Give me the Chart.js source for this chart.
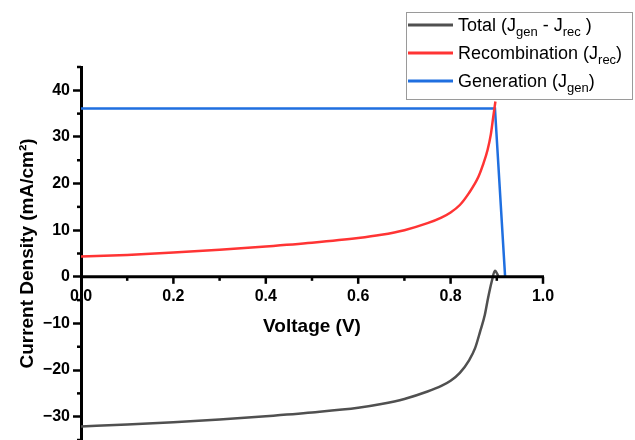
<!DOCTYPE html>
<html lang="en">
<head>
    <meta charset="UTF-8">
    <title>J-V curves</title>
    <script src="https://cdn.jsdelivr.net/npm/chart.js"></script>
    <style>
        body { margin: 0; padding: 0; background: white; }
        .wrap { width: 635px; height: 440px; position: relative; }
    </style>
</head>
<body>
    <div class="wrap">
        <canvas id="jvChart" width="635" height="440"></canvas>
    </div>

    <script>
        // Data
        const recVoltage = [0, 0.1, 0.2, 0.3, 0.4, 0.5, 0.6, 0.65, 0.7, 0.75, 0.78, 0.8, 0.82, 0.84, 0.86, 0.87, 0.88, 0.887, 0.892, 0.897];
        const recombination = [4.36, 4.7, 5.2, 5.8, 6.5, 7.3, 8.3, 9.0, 10.0, 11.5, 12.7, 13.8, 15.4, 18.0, 21.4, 24.0, 27.2, 30.5, 34.1, 37.6];
        const totalVoltage = [0, 0.1, 0.2, 0.3, 0.4, 0.5, 0.6, 0.65, 0.7, 0.75, 0.78, 0.8, 0.82, 0.84, 0.853, 0.864, 0.874, 0.881, 0.889, 0.896, 0.904];
        const total = [-32.1, -31.7, -31.2, -30.6, -29.9, -29.1, -28.1, -27.3, -26.2, -24.6, -23.4, -22.3, -20.6, -17.9, -15.3, -11.7, -8.2, -4.6, -1.0, 1.3, 0];
        const genVoltage = [0, 0.896, 0.918];
        const generation = [36.1, 36.1, 0];

        const xTicks = [0, 0.2, 0.4, 0.6, 0.8, 1.0];
        const yTicks = [-30, -20, -10, 0, 10, 20, 30, 40];

        const colors = { total: "#505050", rec: "#ff3434", gen: "#1f6fe0" };
        const FONT = "'Liberation Sans', Arial, sans-serif";

        const pts = (xs, ys) => xs.map((x, i) => ({ x: x, y: ys[i] }));

        // x axis sits on y = 0, so it is drawn here from the chart's own scales
        const crossAxis = {
            id: "crossAxis",
            afterDatasetsDraw(chart) {
                const { ctx, scales: { x, y } } = chart;
                const y0 = y.getPixelForValue(0);
                ctx.save();
                ctx.strokeStyle = "#000";
                ctx.lineWidth = 3;
                ctx.beginPath();
                ctx.moveTo(x.getPixelForValue(0), y0);
                ctx.lineTo(x.getPixelForValue(1) + 1, y0);
                ctx.stroke();

                ctx.lineWidth = 2.5;
                for (let i = 1; i <= 10; i++) {
                    const px = x.getPixelForValue(i / 10);
                    ctx.beginPath();
                    ctx.moveTo(px, y0);
                    ctx.lineTo(px, y0 + (i % 2 === 0 ? 7 : 4));
                    ctx.stroke();
                }
                // minor y ticks
                const ax = x.getPixelForValue(0);
                for (let v = -35; v <= 45; v += 10) {
                    const py = y.getPixelForValue(v);
                    ctx.beginPath();
                    ctx.moveTo(ax, py);
                    ctx.lineTo(ax - 4, py);
                    ctx.stroke();
                }

                ctx.fillStyle = "#000";
                ctx.font = "bold 16px " + FONT;
                ctx.textAlign = "center";
                ctx.textBaseline = "middle";
                xTicks.forEach(v => {
                    ctx.fillText(v.toFixed(1), x.getPixelForValue(v), y0 + 20);
                });
                ctx.font = "bold 19px " + FONT;
                ctx.fillText("Voltage (V)", (x.left + x.right) / 2, y0 + 50);
                ctx.restore();
            }
        };

        // legend with subscripts
        const subLegend = {
            id: "subLegend",
            afterDraw(chart) {
                const ctx = chart.ctx;
                ctx.save();
                ctx.fillStyle = "#fff";
                ctx.fillRect(406, 12, 226, 87);
                ctx.strokeStyle = "#9a9a9a";
                ctx.lineWidth = 1;
                ctx.strokeRect(406.5, 12.5, 226, 87);

                const rows = [
                    { color: colors.total, parts: [["Total (J", 0], ["gen", 1], [" - J", 0], ["rec", 1], [" )", 0]] },
                    { color: colors.rec, parts: [["Recombination (J", 0], ["rec", 1], [")", 0]] },
                    { color: colors.gen, parts: [["Generation (J", 0], ["gen", 1], [")", 0]] }
                ];
                rows.forEach((row, i) => {
                    const cy = 25 + i * 28;
                    ctx.strokeStyle = row.color;
                    ctx.lineWidth = 3;
                    ctx.beginPath();
                    ctx.moveTo(408, cy);
                    ctx.lineTo(453, cy);
                    ctx.stroke();

                    let tx = 458;
                    ctx.fillStyle = "#000";
                    ctx.textBaseline = "alphabetic";
                    row.parts.forEach(([txt, sub]) => {
                        ctx.font = (sub ? "13px " : "18px ") + FONT;
                        ctx.fillText(txt, tx, cy + 6 + (sub ? 5 : 0));
                        tx += ctx.measureText(txt).width;
                    });
                });
                ctx.restore();
            }
        };

        new Chart(document.getElementById("jvChart").getContext("2d"), {
            type: "line",
            data: {
                datasets: [
                    {
                        label: "Total",
                        data: pts(totalVoltage, total),
                        borderColor: colors.total,
                        borderWidth: 2.5,
                        cubicInterpolationMode: "monotone",
                        pointRadius: 0
                    },
                    {
                        label: "Recombination",
                        data: pts(recVoltage, recombination),
                        borderColor: colors.rec,
                        borderWidth: 2.5,
                        cubicInterpolationMode: "monotone",
                        pointRadius: 0
                    },
                    {
                        label: "Generation",
                        data: pts(genVoltage, generation),
                        borderColor: colors.gen,
                        borderWidth: 2.5,
                        tension: 0,
                        pointRadius: 0
                    }
                ]
            },
            options: {
                responsive: false,
                animation: false,
                clip: false,
                layout: { padding: { left: 0, right: 92, top: 67, bottom: 0 } },
                plugins: { legend: { display: false }, tooltip: { enabled: false } },
                scales: {
                    x: {
                        type: "linear",
                        min: 0,
                        max: 1,
                        display: false
                    },
                    y: {
                        type: "linear",
                        min: -35,
                        max: 45,
                        afterBuildTicks: s => { s.ticks = yTicks.map(v => ({ value: v })); },
                        afterFit: s => { s.width = 81; s.paddingTop = 0; s.paddingBottom = 0; },
                        border: { display: true, color: "#000", width: 3 },
                        grid: { drawOnChartArea: false, tickLength: 8, tickWidth: 2.5, tickColor: "#000" },
                        ticks: {
                            color: "#000",
                            padding: 3,
                            font: { family: FONT, size: 16, weight: "bold" },
                            callback: v => (v < 0 ? "\u2212" + Math.abs(v) : String(v))
                        },
                        title: {
                            display: true,
                            text: "Current Density (mA/cm\u00b2)",
                            color: "#000",
                            font: { family: FONT, size: 19, weight: "bold" },
                            padding: { top: 16, bottom: 0 }
                        }
                    }
                }
            },
            plugins: [crossAxis, subLegend]
        });
    </script>
</body>
</html>
